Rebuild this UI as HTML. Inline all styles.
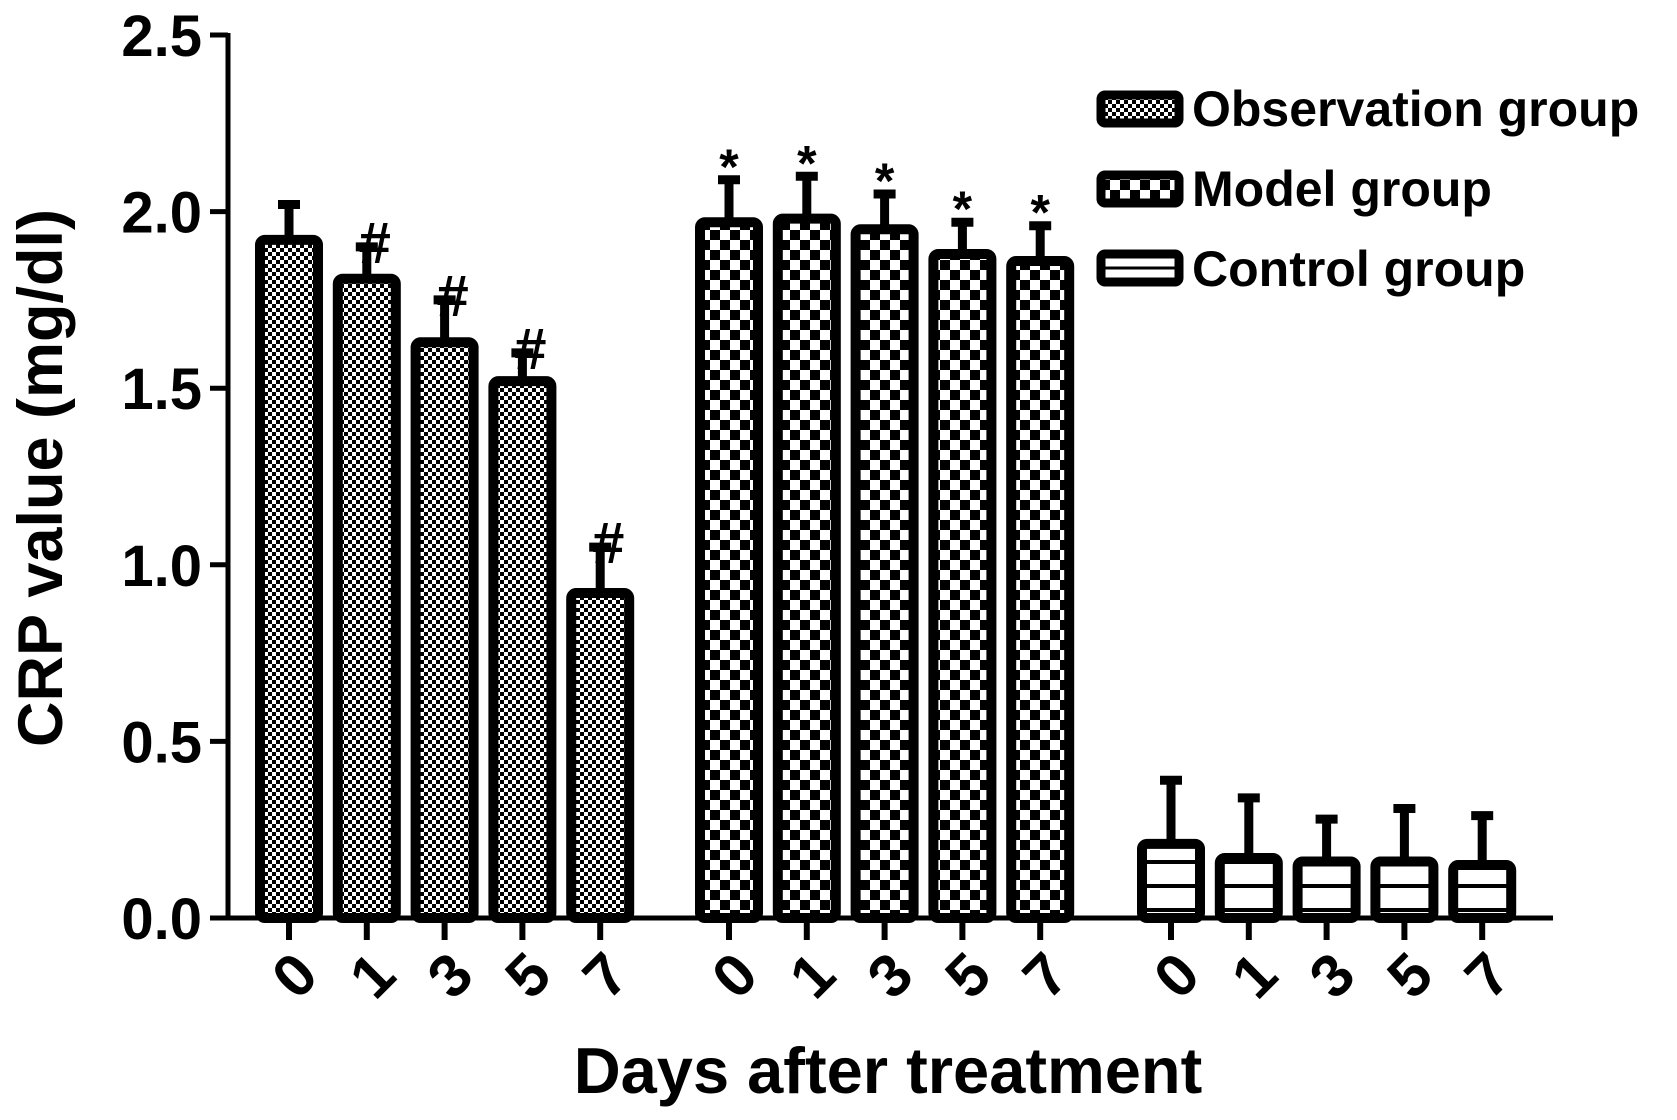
<!DOCTYPE html>
<html><head><meta charset="utf-8"><style>
html,body{margin:0;padding:0;background:#fff;}
svg{display:block;font-family:"Liberation Sans",Arial,sans-serif;font-weight:bold;}
</style></head><body>
<svg id="chart" width="1677" height="1120" viewBox="0 0 1677 1120" xmlns="http://www.w3.org/2000/svg">
<defs>
<pattern id="pObs" width="8" height="8" patternUnits="userSpaceOnUse"><rect width="8" height="8" fill="#fff"/><rect width="4" height="4" fill="#000"/><rect x="4" y="4" width="4" height="4" fill="#000"/></pattern>
<pattern id="pModel" width="20" height="20" patternUnits="userSpaceOnUse"><rect width="20" height="20" fill="#fff"/><rect width="10" height="10" fill="#000"/><rect x="10" y="10" width="10" height="10" fill="#000"/></pattern>
<pattern id="pCtrl" width="10" height="24" patternUnits="userSpaceOnUse"><rect width="10" height="24" fill="#fff"/><rect y="20" width="10" height="4" fill="#000"/></pattern>
</defs>
<g id="plot"></g>
<text transform="translate(62,478) rotate(-90)" text-anchor="middle" font-size="63">CRP value (mg/dl)</text>
<text x="888" y="1093" text-anchor="middle" font-size="65">Days after treatment</text>
<g>
<rect x="1101" y="95" width="78" height="28" rx="4" fill="url(#pObs)" stroke="#000" stroke-width="9"/>
<text x="1192" y="126" font-size="50">Observation group</text>
<rect x="1101" y="175" width="78" height="28" rx="4" fill="url(#pModel)" stroke="#000" stroke-width="9"/>
<text x="1192" y="206" font-size="50">Model group</text>
<rect x="1101" y="254" width="78" height="28" rx="4" fill="#fff" stroke="#000" stroke-width="9"/>
<line x1="1105" y1="268" x2="1175" y2="268" stroke="#000" stroke-width="3"/>
<text x="1192" y="286" font-size="50">Control group</text>
</g>
</svg>
<script>
const days = ["0","1","3","5","7"];
const obsValues = [1.92, 1.81, 1.63, 1.52, 0.92];
const obsErrTop = [2.02, 1.90, 1.75, 1.60, 1.05];
const modelValues = [1.97, 1.98, 1.95, 1.88, 1.86];
const modelErrTop = [2.09, 2.10, 2.05, 1.97, 1.96];
const ctrlValues = [0.21, 0.17, 0.16, 0.16, 0.15];
const ctrlErrTop = [0.39, 0.34, 0.28, 0.31, 0.29];
const obsMarks = ["", "#", "#", "#", "#"];
const modelMarks = ["*", "*", "*", "*", "*"];
const yTicks = [0, 0.5, 1.0, 1.5, 2.0, 2.5];

const NS = "http://www.w3.org/2000/svg";
const g = document.getElementById("plot");
const X0 = 228, X1 = 1553, Y0 = 918, YT = 35;
function y(v){ return Y0 - (v/2.5)*(Y0-YT); }
const groupStart = [289, 729, 1171], step = 77.8, BW = 58;
function x(gi, i){ return groupStart[gi] + i*step; }
function el(tag, attrs, parent){ const e=document.createElementNS(NS,tag); for(const k in attrs) e.setAttribute(k,attrs[k]); (parent||g).appendChild(e); return e; }

const groups = [
 {vals:obsValues, err:obsErrTop, fill:"url(#pObs)", marks:obsMarks, name:"observation"},
 {vals:modelValues, err:modelErrTop, fill:"url(#pModel)", marks:modelMarks, name:"model"},
 {vals:ctrlValues, err:ctrlErrTop, fill:"url(#pCtrl)", marks:null, name:"control"}
];
groups.forEach((grp, gi) => {
  grp.vals.forEach((v, i) => {
    const cx = x(gi, i);
    const eb = el("path", {d:`M${cx},${y(v)} V${y(grp.err[i])} M${cx-11},${y(grp.err[i])} H${cx+11}`, stroke:"#000", "stroke-width":9, fill:"none"});
    
    
    const r = el("rect", {x:cx-BW/2, y:y(v), width:BW, height:Y0-y(v), rx:5, fill:grp.fill, stroke:"#000", "stroke-width":10});
    
    
    if (grp.marks && grp.marks[i]) {
      const isHash = grp.marks[i] === "#";
      const t = el("text", {x:cx+(isHash?8:0), y:y(grp.err[i]) + (isHash?16:4), "text-anchor":"middle", "font-size": isHash?58:50});
      t.textContent = grp.marks[i];
      
      
    }
    const tk = el("line", {x1:cx, y1:Y0, x2:cx, y2:Y0+22, stroke:"#000", "stroke-width":6});
    
    
    const lab = el("text", {transform:`translate(${cx+20},${Y0+72}) rotate(-45)`, "text-anchor":"middle", "font-size":60});
    lab.textContent = days[i];
    
    
  });
});
yTicks.forEach(t => {
  const tk = el("line", {x1:X0-18, y1:y(t), x2:X0, y2:y(t), stroke:"#000", "stroke-width":5});
  
  
  const lab = el("text", {x:X0-26, y:y(t)+21, "text-anchor":"end", "font-size":58});
  lab.textContent = t.toFixed(1);
  
  
});
const ya = el("line", {x1:X0, y1:YT-2, x2:X0, y2:Y0+2, stroke:"#000", "stroke-width":5});


const xa = el("line", {x1:X0-2, y1:Y0, x2:X1, y2:Y0, stroke:"#000", "stroke-width":5});


</script>
</body></html>
